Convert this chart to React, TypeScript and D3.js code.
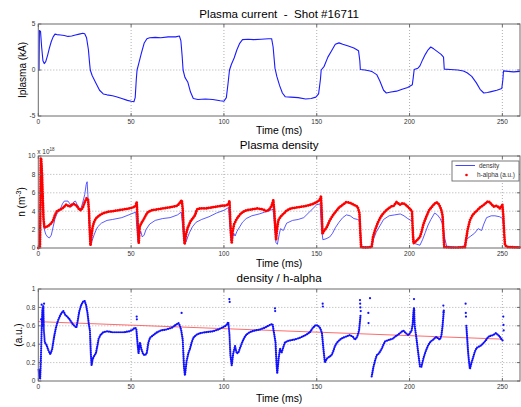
import React from "react";
import * as d3 from "d3";

// ---- data (time in ms) ----
const iplasma: [number, number][] = [
  [0,0],[0.4,0],[0.6,4.3],[1.2,4.2],[1.8,2.5],[2.5,1.0],[3.2,0.7],[4,0.9],[5,1.6],[6,2.4],[7,3.1],[8,3.6],[9,3.9],[10,3.85],[12,3.8],[14,3.75],[16,3.65],[18,3.7],[20,3.8],[22,3.9],[24,4.0],[25,3.95],[26,3.5],[27,2.2],[27.6,0.8],[28,0],[29,-0.6],[31,-1.4],[33,-2.2],[35,-2.6],[37,-2.7],[40,-2.8],[42,-2.9],[45,-3.1],[48,-3.3],[50,-3.4],[51.5,-3.45],[52.2,-3.0],[52.8,-1],[53.2,0],[54,0.6],[55.5,1.8],[57,2.9],[58.5,3.4],[60,3.5],[63,3.55],[66,3.5],[70,3.6],[74,3.6],[76,3.7],[76.8,3.2],[77.5,1.5],[78,0],[79,-0.8],[80.5,-1.3],[82,-2.4],[83.5,-3.1],[86,-3.2],[90,-3.15],[94,-3.2],[98,-3.35],[100,-3.4],[101.3,-3.0],[102.2,-1.5],[103,0],[104,0.6],[105.5,1.3],[107,2.2],[108.5,2.9],[110,3.3],[113,3.35],[116,3.3],[120,3.35],[124,3.4],[125.7,3.4],[126.5,2.5],[127.5,0.2],[128.5,-0.7],[130,-1.7],[131.5,-2.5],[133,-2.9],[136,-2.95],[140,-3.0],[144,-3.15],[147,-3.1],[149.5,-2.95],[151,-2.6],[152,-1.0],[152.4,0],[154,0.4],[156,1.4],[158,2.1],[160,2.8],[162,2.95],[164,2.8],[167,2.6],[170,2.4],[172.5,2.1],[173.2,1.0],[173.5,0.05],[176,0.0],[178.7,-0.1],[180,-0.2],[182.3,-0.5],[184,-1.2],[186,-2.2],[187.5,-2.5],[190,-2.4],[193,-2.3],[196,-2.1],[199,-1.9],[201.5,-1.6],[202,-0.8],[202.5,0.05],[204.5,0.2],[205.6,0.45],[207,1.1],[208.5,1.7],[210,2.2],[211.4,2.5],[213,2.3],[215,2.0],[217,1.7],[218.3,1.4],[218.7,0.1],[222,0.05],[226,0.0],[229,-0.1],[231,-0.3],[233.5,-0.7],[236,-1.4],[238,-2.1],[240,-2.5],[242,-2.45],[244,-2.35],[247,-2.2],[249.7,-2.0],[250.3,-1],[250.6,-0.1],[253,-0.15],[256,-0.2],[259.5,-0.15]
];

// line density, units of 1e18 m^-3
const density: [number, number][] = [
  [0,0],[0.8,0],[1.2,5],[1.6,9.0],[2.0,7.0],[2.5,4.0],[3,2.2],[4,1.5],[5,1.2],[6,1.1],[7,1.4],[8,2.3],[9,3.2],[10,3.7],[12,4.3],[13,4.8],[14,5.1],[16,5.1],[17,4.8],[18,4.5],[19,5.0],[20,5.1],[21,4.7],[22,4.3],[23,4.3],[24,5.0],[25,5.8],[25.8,6.9],[26.3,7.2],[26.7,5.8],[27.2,3.5],[27.7,1.2],[28.3,0.3],[29,0.8],[30,1.4],[31,1.9],[32,2.3],[34,2.7],[37,3.0],[40,3.1],[45,3.3],[50,3.7],[52.5,3.9],[53,2.5],[53.7,0.7],[54.5,1.5],[55.2,1.8],[56,1.2],[57,1.4],[58,2.0],[60,2.6],[63,3.0],[67,3.2],[71,3.3],[75,3.6],[77,3.9],[77.7,2.5],[78.5,0.7],[79.5,0.6],[80.5,1.2],[81.5,1.7],[83,2.3],[85,2.8],[88,3.1],[92,3.4],[96,3.8],[100,4.1],[102.5,4.4],[103,3.0],[103.8,0.8],[104.5,1.0],[105.3,1.6],[106,1.3],[107,1.8],[108.5,2.3],[110,2.8],[112,3.2],[115,3.5],[119,3.7],[122,3.9],[125,4.1],[126.5,4.2],[127.3,2.5],[128,0.6],[128.8,0.4],[129.8,1.5],[130.5,2.1],[132,1.9],[133.8,2.7],[137,3.0],[140,3.1],[143,3.3],[146,3.9],[148,4.3],[150,4.7],[151.8,4.8],[152.5,2.3],[153.3,0.9],[155,1.0],[157,1.2],[158.5,1.6],[160,2.2],[162,2.8],[164,3.3],[166,3.6],[168,3.5],[170,3.2],[172,3.1],[173.4,2.9],[173.8,1.0],[174.3,0.15],[177,0.1],[179.6,0.1],[180.5,0.9],[182,1.7],[184,2.4],[186,3.1],[189,3.5],[192,3.6],[195,3.7],[197,3.5],[199,3.2],[201.5,2.9],[202,1.5],[202.5,0.5],[205.6,0.3],[207,0.9],[208.5,1.7],[210,2.5],[211.5,3.1],[213.5,3.8],[215,3.6],[216.5,3.2],[218,2.5],[219,1.0],[220,0.2],[225,0.1],[229,0.1],[230,0.6],[231,1.0],[233,1.3],[235,1.6],[237,2.1],[238.8,1.9],[240,2.6],[241.5,3.3],[244,3.5],[246,3.5],[248.5,3.4],[250.2,3.2],[250.8,2.0],[251.4,0.3],[253,0.1],[259.5,0.1]
];

// H-alpha emission, arbitrary units (same scale as density)
const halpha: [number, number][] = [
  [0,0],[0.5,0.05],[0.9,0.2],[1.1,3.5],[1.3,9.8],[1.6,9.6],[2.0,8.0],[2.4,5.5],[2.8,3.2],[3.3,2.2],[4,2.3],[5,2.35],[6,2.5],[7,2.7],[8,3.0],[9,3.6],[10,4.0],[11,4.1],[12,4.2],[13,4.3],[14,4.5],[15,4.7],[16,4.6],[17,4.5],[18,4.7],[19,4.8],[20,4.7],[21,4.5],[22,4.2],[23,4.1],[24,4.4],[25,5.0],[26,5.4],[26.8,5.3],[27.3,4.0],[27.7,2.0],[28.1,0.3],[28.6,1.2],[29.2,2.2],[30,2.8],[31,3.2],[32,3.4],[34,3.7],[36,3.85],[38,3.95],[40,4.0],[43,4.1],[46,4.2],[49,4.3],[51,4.4],[52.5,4.6],[53,5.0],[53.4,3.5],[53.8,1.5],[54.1,0.5],[54.6,2.3],[55.5,2.7],[57,3.2],[58,3.6],[59,3.9],[61,4.1],[64,4.2],[67,4.3],[70,4.4],[73,4.5],[75,4.6],[76.5,5.0],[77.3,5.2],[77.8,4.2],[78.3,2.0],[78.8,0.4],[79.5,1.4],[80.5,2.2],[82,2.9],[83.5,3.3],[84.5,3.6],[85.5,4.2],[87,4.3],[90,4.3],[93,4.4],[96,4.5],[99,4.6],[101,4.6],[102.5,4.8],[103,5.1],[103.4,3.0],[103.8,1.5],[104.2,0.5],[104.7,1.8],[105.5,2.6],[107,3.2],[108.5,3.6],[110,3.9],[112,4.1],[115,4.2],[118,4.3],[121,4.2],[123,4.0],[124.5,4.2],[125.7,4.6],[126.6,5.2],[127.2,3.8],[127.7,2.0],[128.1,0.9],[128.6,2.0],[129.3,3.0],[130.5,3.4],[132,3.7],[134,4.1],[136,4.3],[139,4.4],[142,4.5],[145,4.6],[148,4.8],[150,5.0],[151.5,5.2],[152.3,5.6],[152.7,3.8],[153.1,1.5],[153.6,1.8],[154.5,2.0],[155.5,2.3],[157,3.0],[158.5,3.5],[160,3.9],[162,4.4],[164,4.7],[166,5.0],[168,4.9],[170,4.7],[172,4.5],[173,3.8],[173.5,1.5],[173.9,0.1],[176,0.05],[179.6,0.1],[180.3,1.2],[181.5,2.0],[183,2.8],[184.5,3.4],[186,3.8],[188,4.2],[190,4.5],[191.5,4.6],[193,5.0],[194.8,4.7],[196.5,4.9],[198.5,4.6],[200,4.3],[201.3,4.0],[201.7,2.0],[202.1,0.5],[203.8,0.8],[205.6,1.2],[206.5,1.8],[207.5,2.6],[209,3.4],[210.5,4.1],[212.5,4.6],[214.5,5.0],[216,4.7],[217,4.2],[217.8,3.5],[218.3,1.5],[218.7,0.1],[222,0.05],[226,0.05],[229.9,0.1],[230.5,1.0],[231.3,2.0],[232.5,3.0],[234,3.6],[236,4.0],[238,4.4],[240,4.7],[242.4,5.1],[244,4.8],[245.3,4.5],[247,4.6],[248.7,4.3],[250,4.7],[250.5,3.5],[251,1.5],[251.4,0.3],[253,0.1],[259.5,0.05]
];

// density / h-alpha ratio (NaN marks gaps in the record)
const ratio: [number, number][] = [
  [0.2,0.12],[0.6,0.05],[1.0,0.02],[1.4,0.25],[1.8,0.55],[2.2,0.78],[2.7,0.82],[3.0,0.55],[3.5,0.42],[4.5,0.39],[5.5,0.33],[6.5,0.29],[7.5,0.35],[8.5,0.48],[9.5,0.58],[10.5,0.65],[11.5,0.7],[12.5,0.74],[13.5,0.76],[14.5,0.72],[15.5,0.7],[16.5,0.68],[17.5,0.65],[18.5,0.62],[19.5,0.6],[20.5,0.58],[21.2,0.65],[22,0.75],[23,0.82],[24,0.86],[25,0.87],[25.8,0.82],[26.5,0.74],[27.2,0.62],[27.8,0.55],[28.3,0.3],[28.7,0.17],[29.3,0.24],[30,0.27],[31,0.3],[31.8,0.38],[32.5,0.46],[33.5,0.5],[35,0.53],[37,0.54],[40,0.53],[43,0.53],[46,0.53],[49,0.54],[51,0.56],[52,0.58],[52.8,0.57],[53.5,0.4],[54,0.3],[54.8,0.42],[55.5,0.35],[56.5,0.29],[57.5,0.28],[58.4,0.3],[59.3,0.42],[60.2,0.47],[62,0.5],[64,0.53],[66,0.55],[69,0.56],[72,0.58],[74,0.61],[75.5,0.63],[76.3,0.6],[77,0.55],[77.8,0.45],[78.5,0.15],[79,0.06],[79.9,0.22],[80.8,0.3],[81.7,0.35],[82.6,0.42],[83.5,0.47],[85,0.5],[87,0.52],[90,0.53],[94,0.54],[97,0.56],[99,0.58],[101,0.6],[102.4,0.64],[103,0.5],[103.5,0.28],[104.2,0.17],[105,0.3],[106,0.38],[106.9,0.3],[107.8,0.31],[108.7,0.36],[110,0.43],[111.5,0.49],[113,0.52],[115,0.54],[117,0.55],[119.4,0.56],[122,0.58],[124.8,0.61],[126.2,0.62],[127,0.52],[127.8,0.42],[128.3,0.2],[128.7,0.08],[129.5,0.25],[130.2,0.35],[131.1,0.31],[132,0.37],[132.9,0.42],[135,0.44],[138,0.45],[141,0.47],[144,0.5],[146.3,0.53],[148,0.58],[149.5,0.61],[150.8,0.6],[152,0.57],[152.8,0.52],[153.6,0.35],[154.4,0.2],[155.3,0.24],[156.5,0.26],[158,0.28],[159,0.33],[159.8,0.38],[161,0.42],[162.5,0.45],[164,0.47],[165.5,0.48],[167.9,0.5],[169.5,0.48],[170.6,0.45],[171.8,0.48],[172.8,0.55],[173.3,0.65],[173.6,0.72],
  [176,NaN],
  [179.6,0.05],[180.5,0.15],[181.4,0.22],[182.3,0.28],[183.5,0.3],[185,0.35],[186,0.4],[186.8,0.43],[188,0.44],[189.4,0.45],[191,0.46],[192.1,0.48],[193.5,0.5],[194.8,0.52],[196,0.54],[196.6,0.55],[198,0.52],[199.3,0.5],[200.3,0.52],[201.1,0.55],[201.7,0.62],[202.1,0.75],[202.4,0.8],[202.8,0.6],[203.8,0.45],[204.7,0.3],[205.6,0.16],[206.3,0.15],[207.4,0.24],[208.3,0.3],[209.2,0.35],[210.1,0.39],[211,0.42],[212,0.44],[212.8,0.45],[213.7,0.47],[214.6,0.48],[215.5,0.46],[216.4,0.45],[217.2,0.5],[217.8,0.6],[218.2,0.7],[218.5,0.78],
  [224,NaN],
  [230.6,0.6],[231.1,0.45],[231.6,0.3],[232.1,0.2],[232.5,0.13],[233.4,0.2],[234.3,0.26],[235.2,0.32],[236.1,0.36],[237,0.37],[237.9,0.38],[238.8,0.39],[239.7,0.41],[241,0.44],[242.4,0.48],[243.5,0.49],[245.1,0.5],[246.5,0.52],[247.8,0.5],[248.7,0.48],[249.6,0.45],[250.2,0.44]
];

const ratioScatter: [number, number][] = [
  [0.8,0.1],[1.2,0.2],[1.5,0.67],[1.8,0.83],[2.4,0.6],[3.1,0.84],
  [53.0,0.7],[53.1,0.67],[77.2,0.74],[102.9,0.89],[103.1,0.86],
  [127.5,0.79],[127.6,0.76],[153.2,0.84],[153.3,0.81],
  [173.3,0.88],[173.4,0.84],[173.5,0.8],[173.7,0.76],
  [177.8,0.74],[177.9,0.63],[178.7,0.9],
  [202.4,0.89],[202.5,0.77],[218.2,0.82],[218.3,0.75],
  [230.2,0.84],[230.3,0.74],[230.4,0.7],
  [250.5,0.7],[250.6,0.61],[250.7,0.55]
];

// linear trend of the ratio
const ratioFit: [number, number][] = [[0, 0.645], [250, 0.455]];

const xTicks = [0, 50, 100, 150, 200, 250];
const iTicks = [-5, 0, 5];
const nTicks = [0, 2, 4, 6, 8, 10];
const rTicks = [0, 0.2, 0.4, 0.6, 0.8, 1];

const FONT = "'Liberation Sans', Arial, Helvetica, sans-serif";
const W = 521;
const H = 407;
const X0 = 38.3;
const X1 = 520;

const x = d3.scaleLinear().domain([0, 259.5]).range([X0, X1]);
const y1 = d3.scaleLinear().domain([-5, 5]).range([116, 24]);
const y2 = d3.scaleLinear().domain([0, 10]).range([248, 156]);
const y3 = d3.scaleLinear().domain([0, 1]).range([381, 289]);

type Scale = d3.ScaleLinear<number, number>;

function Grid({ y, ticks }: { y: Scale; ticks: number[] }) {
  const [b, t] = y.range();
  const [d0, d1] = y.domain();
  return (
    <g>
      {xTicks.filter((v) => v > 0).map((v) => (
        <line key={"gx" + v} x1={x(v)} x2={x(v)} y1={t} y2={b} stroke="#9a9a9a" strokeWidth={0.8} strokeDasharray="1,2" />
      ))}
      {ticks.filter((v) => v > d0 && v < d1).map((v) => (
        <line key={"gy" + v} x1={X0} x2={X1} y1={y(v)} y2={y(v)} stroke="#9a9a9a" strokeWidth={0.8} strokeDasharray="1,2" />
      ))}
    </g>
  );
}

function Axes({ y, ticks, fmt }: { y: Scale; ticks: number[]; fmt: (v: number) => string }) {
  const [b, t] = y.range();
  return (
    <g fontFamily={FONT} fontSize={6.5} fill="#333">
      <rect x={X0} y={t} width={X1 - X0} height={b - t} fill="none" stroke="#6a6a6a" strokeWidth={1} />
      {xTicks.map((v) => (
        <g key={"tx" + v}>
          <line x1={x(v)} x2={x(v)} y1={b} y2={b - 3} stroke="#6a6a6a" />
          <line x1={x(v)} x2={x(v)} y1={t} y2={t + 3} stroke="#6a6a6a" />
          <text x={x(v)} y={b + 7.5} textAnchor="middle">{v}</text>
        </g>
      ))}
      {ticks.map((v) => (
        <g key={"ty" + v}>
          <line x1={X0} x2={X0 + 3} y1={y(v)} y2={y(v)} stroke="#6a6a6a" />
          <line x1={X1} x2={X1 - 3} y1={y(v)} y2={y(v)} stroke="#6a6a6a" />
          <text x={X0 - 3} y={y(v) + 2.3} textAnchor="end">{fmt(v)}</text>
        </g>
      ))}
    </g>
  );
}

export default function App() {
  const lineI = d3.line<[number, number]>().x((d) => x(d[0])).y((d) => y1(d[1]));
  const lineN = d3.line<[number, number]>().x((d) => x(d[0])).y((d) => y2(d[1]));
  const lineR = d3
    .line<[number, number]>()
    .defined((d) => !isNaN(d[1]))
    .x((d) => x(d[0]))
    .y((d) => y3(d[1]));

  const fmtInt = (v: number) => String(v);
  const fmtR = (v: number) => (v === 0 ? "0" : v === 1 ? "1" : v.toFixed(1));
  const cx = (X0 + X1) / 2;

  return (
    <svg width={W} height={H} style={{ position: "absolute", left: 0, top: 0, background: "#fff" }} fontFamily={FONT}>
      <rect width={W} height={H} fill="#fff" />

      {/* Plasma current */}
      <Grid y={y1} ticks={iTicks} />
      <path d={lineI(iplasma) || ""} fill="none" stroke="#1a1aff" strokeWidth={1.1} strokeLinejoin="round" />
      <Axes y={y1} ticks={iTicks} fmt={fmtInt} />
      <text x={cx} y={18} textAnchor="middle" fontSize={11.6} style={{ whiteSpace: "pre" }}>{"Plasma current  -  Shot #16711"}</text>
      <text x={cx} y={134} textAnchor="middle" fontSize={10.4}>Time (ms)</text>
      <text transform={`translate(26,${y1(0)}) rotate(-90)`} textAnchor="middle" fontSize={10}>Iplasma (kA)</text>

      {/* Plasma density */}
      <Grid y={y2} ticks={nTicks} />
      <path d={lineN(density) || ""} fill="none" stroke="#3030ff" strokeWidth={0.8} strokeLinejoin="round" />
      <path d={lineN(halpha) || ""} fill="none" stroke="#ff0000" strokeWidth={2.8} strokeLinejoin="round" strokeLinecap="round" strokeDasharray="0.01 2.3" />
      <Axes y={y2} ticks={nTicks} fmt={fmtInt} />
      <text x={X0 - 1} y={154} fontSize={6.5} fill="#333">
        x 10<tspan dy={-3} fontSize={4.5}>18</tspan>
      </text>
      <text x={cx} y={149} textAnchor="middle" fontSize={11.6}>Plasma density</text>
      <text x={cx} y={267} textAnchor="middle" fontSize={10.4}>Time (ms)</text>
      <text transform={`translate(25,${y2(5)}) rotate(-90)`} textAnchor="middle" fontSize={10}>
        n (m<tspan dy={-4} fontSize={7}>-3</tspan><tspan dy={4}>)</tspan>
      </text>
      {/* legend */}
      <g fontFamily={FONT} fontSize={6.4} fill="#333">
        <rect x={452} y={161} width={67} height={20} fill="#fff" stroke="#6a6a6a" strokeWidth={0.9} />
        <line x1={455.5} x2={475} y1={165.5} y2={165.5} stroke="#3030ff" strokeWidth={0.9} />
        <text x={489} y={167.5} textAnchor="middle">density</text>
        <circle cx={466.5} cy={175} r={1.3} fill="#ff0000" />
        <text x={496} y={177} textAnchor="middle">h-alpha (a.u.)</text>
      </g>

      {/* density / h-alpha */}
      <Grid y={y3} ticks={rTicks} />
      <path d={lineR(ratioFit) || ""} fill="none" stroke="#ff5a5a" strokeWidth={0.9} />
      <path d={lineR(ratio) || ""} fill="none" stroke="#1010ff" strokeWidth={2.2} strokeLinejoin="round" strokeLinecap="round" strokeDasharray="0.01 2" />
      {ratioScatter.map((d, i) => (
        <circle key={"s" + i} cx={x(d[0])} cy={y3(d[1])} r={1.1} fill="#1010ff" />
      ))}
      <Axes y={y3} ticks={rTicks} fmt={fmtR} />
      <text x={cx} y={282} textAnchor="middle" fontSize={11.6}>density / h-alpha</text>
      <text x={cx} y={402} textAnchor="middle" fontSize={10.4}>Time (ms)</text>
      <text transform={`translate(22,${y3(0.5)}) rotate(-90)`} textAnchor="middle" fontSize={10}>(a.u.)</text>
    </svg>
  );
}
